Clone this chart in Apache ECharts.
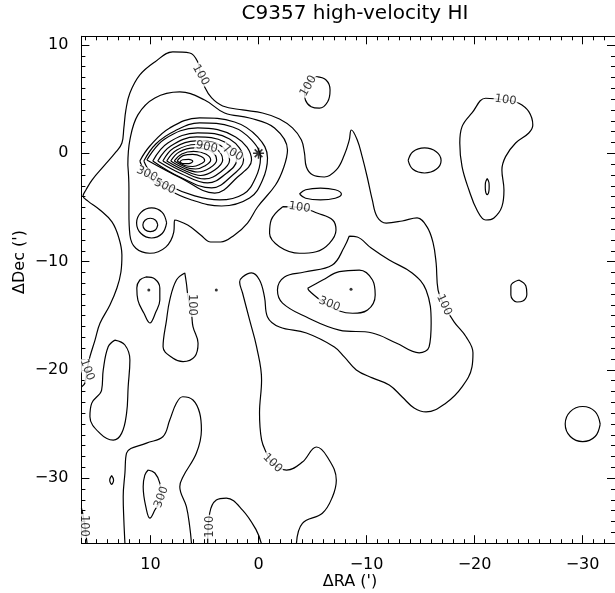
<!DOCTYPE html>
<html>
<head>
<meta charset="utf-8">
<script src="https://cdn.jsdelivr.net/npm/echarts@6/dist/echarts.min.js"></script>
<style>
html, body { margin: 0; padding: 0; background: #fff; }
#chart { width: 615px; height: 593px; }
</style>
</head>
<body>
<div id="chart"></div>
<script>
// Offsets in arcminutes: [dRA, dDec]
const RA_MIN = -33, RA_MAX = 16.4;
const DEC_MIN = -36, DEC_MAX = 10.8;
const raTickValues = [10, 0, -10, -20, -30];
const decTickValues = [10, 0, -10, -20, -30];

// ---- contour paths ----
const c100Main = [[16.4,-21.58],[16.07,-21.21],[15.88,-20.01],[15.61,-18.78],[15.14,-17.25],[14.68,-15.7],[13.76,-14.01],[13.11,-12.44],[12.74,-10.96],[12.65,-9.39],[12.93,-7.82],[13.57,-6.34],[14.68,-5.24],[15.79,-4.42],[16.25,-3.95],[15.98,-3.39],[15.42,-2.47],[14.31,-1.17],[13.2,0.12],[12.65,0.95],[12.47,2.34],[12.28,4.0],[11.91,5.56],[10.99,7.23],[9.6,8.43],[7.94,9.36],[6.37,9.26],[5.63,8.43],[5.36,7.23],[4.99,6.12],[4.34,5.11],[3.32,4.37],[1.48,4.0],[-0.37,3.72],[-1.94,3.17],[-3.14,2.34],[-3.97,1.23],[-4.25,0.03],[-4.43,-1.26],[-4.99,-1.99],[-6.09,-2.19],[-7.2,-1.54],[-7.94,-0.16],[-8.4,1.23],[-8.59,2.15],[-9.14,1.23],[-9.6,-0.34],[-10.06,-2.19],[-10.53,-4.31],[-10.99,-5.88],[-11.82,-6.44],[-13.3,-6.25],[-14.68,-5.97],[-15.6,-6.8],[-16.16,-8.28],[-16.44,-10.13],[-16.62,-12.63],[-17.17,-14.0],[-18.1,-15.56],[-19.21,-16.94],[-19.85,-18.42],[-19.76,-19.72],[-18.84,-21.57],[-17.36,-23.05],[-15.51,-23.88],[-14.4,-23.51],[-13.3,-22.5],[-12.1,-21.39],[-10.53,-20.74],[-9.05,-20.0],[-7.94,-18.8],[-7.02,-17.88],[-4.43,-16.59],[-1.94,-16.04],[-0.83,-15.11],[-0.55,-13.27],[-0.09,-11.7],[0.65,-11.05],[1.48,-11.42],[1.75,-11.88],[1.48,-12.9],[0.83,-15.39],[0.18,-17.88],[-0.28,-20.93],[-0.09,-23.98],[-0.28,-26.47],[-0.74,-27.67],[-1.29,-28.6],[-2.59,-29.25],[-4.06,-28.51],[-5.36,-27.12],[-6.37,-28.04],[-7.2,-30.18],[-6.83,-31.75],[-5.91,-33.23],[-4.06,-34.16],[-3.51,-36.0]];
const c200Core = [[12.1,-1.08],[11.91,1.23],[11.17,3.55],[9.6,5.11],[7.29,5.66],[4.99,4.92],[3.14,3.72],[0.83,3.26],[-1.48,2.34],[-2.68,0.3],[-2.31,-1.36],[-1.57,-2.93],[0.09,-4.96],[1.02,-6.44],[2.22,-7.54],[3.51,-8.19],[4.43,-8.19],[5.36,-7.54],[6.56,-6.62],[7.76,-6.16],[7.85,-7.28],[8.59,-8.66],[10.06,-9.23],[11.36,-8.77],[11.91,-7.54],[12.0,-5.42],[12.0,-3.2],[12.1,-1.08]];
const c300Core = [[10.99,-0.71],[10.06,0.67],[8.22,2.34],[5.45,3.26],[2.22,2.89],[0.09,1.51],[-0.83,-0.43],[-0.37,-2.47],[0.83,-4.13],[3.42,-4.87],[6.19,-4.31],[8.68,-3.2],[10.25,-2.1],[10.99,-0.71]];
const c400Core = [[10.62,-0.71],[9.51,0.86],[7.76,2.06],[5.45,2.8],[2.4,2.43],[0.65,1.23],[-0.18,-0.43],[0.28,-2.28],[1.39,-3.76],[3.6,-4.31],[5.91,-3.94],[8.22,-3.02],[9.88,-1.91],[10.62,-0.71]];
const c500Core = [[10.34,-0.62],[8.68,1.32],[5.63,2.34],[2.12,1.51],[0.65,-0.62],[1.94,-2.19],[4.06,-3.67],[7.2,-2.28],[10.34,-0.62]];
const c600Core = [[9.79,-0.71],[8.4,0.95],[5.63,1.88],[2.68,1.32],[1.39,-0.62],[2.49,-2.1],[4.34,-3.2],[7.29,-2.19],[9.79,-0.71]];
const c700Core = [[9.33,-0.71],[8.13,0.67],[5.73,1.51],[3.14,1.04],[2.03,-0.62],[3.05,-1.91],[4.71,-2.74],[7.11,-1.91],[9.33,-0.71]];
const c800Core = [[8.86,-0.71],[7.85,0.49],[5.82,1.14],[3.6,0.77],[2.68,-0.62],[3.51,-1.73],[4.99,-2.37],[6.93,-1.73],[8.86,-0.71]];
const c900Core = [[8.5,-0.71],[7.57,0.3],[5.82,0.81],[4.06,0.49],[3.32,-0.62],[4.06,-1.54],[5.36,-2.05],[6.83,-1.59],[8.5,-0.71]];
const c1000Core = [[8.13,-0.71],[7.34,0.12],[5.91,0.49],[4.43,0.21],[3.88,-0.62],[4.52,-1.36],[5.63,-1.73],[6.74,-1.45],[8.13,-0.71]];
const c1100Core = [[7.8,-0.71],[7.11,-0.06],[6.0,0.17],[4.89,-0.06],[4.43,-0.62],[4.99,-1.17],[5.82,-1.45],[6.69,-1.31],[7.8,-0.71]];
const c1200Core = [[7.53,-0.71],[6.93,-0.2],[6.09,-0.11],[5.31,-0.3],[4.99,-0.66],[5.45,-1.03],[6.09,-1.22],[6.83,-1.13],[7.53,-0.71]];
const c1300Core = [[7.29,-0.78],[7.02,-0.6],[6.46,-0.57],[6.09,-0.74],[6.46,-0.95],[7.02,-0.95],[7.29,-0.78]];
const c300Clump = [[8.51,-6.43],[8.92,-5.45],[9.9,-5.04],[10.88,-5.45],[11.29,-6.43],[10.88,-7.41],[9.9,-7.82],[8.92,-7.41],[8.51,-6.43]];
const c400Clump = [[9.33,-6.62],[9.53,-6.18],[10.02,-6.0],[10.51,-6.18],[10.71,-6.62],[10.51,-7.06],[10.02,-7.24],[9.53,-7.06],[9.33,-6.62]];
const c100North = [[-5.33,7.07],[-6.25,6.77],[-6.62,5.85],[-6.4,4.76],[-5.63,4.16],[-4.87,4.3],[-4.34,4.92],[-4.25,5.69],[-4.52,6.49],[-5.33,7.07]];
const c100East = [[-13.85,-0.66],[-14.29,0.15],[-15.37,0.49],[-16.45,0.15],[-16.9,-0.66],[-16.45,-1.48],[-15.37,-1.82],[-14.29,-1.48],[-13.85,-0.66]];
const c100Flat = [[-3.79,-3.76],[-4.36,-3.37],[-5.73,-3.21],[-7.1,-3.37],[-7.67,-3.76],[-7.1,-4.15],[-5.73,-4.31],[-4.36,-4.15],[-3.79,-3.76]];
const c100Mid = [[-2.24,-4.93],[-1.17,-6.16],[-1.02,-7.39],[-1.94,-8.62],[-3.79,-9.23],[-5.33,-9.09],[-6.56,-8.31],[-7.17,-7.08],[-6.86,-6.16],[-5.48,-5.54],[-3.79,-5.0],[-2.24,-4.93]];
const c200South = [[-8.4,-7.64],[-7.94,-8.65],[-6.83,-10.31],[-4.25,-10.96],[-2.4,-11.42],[-1.75,-12.63],[-2.22,-13.83],[-4.43,-15.12],[-7.48,-16.32],[-10.53,-16.59],[-12.74,-17.51],[-14.87,-18.42],[-15.79,-17.88],[-15.98,-15.67],[-15.51,-12.63],[-14.22,-11.05],[-12.1,-9.86],[-10.43,-8.75],[-9.14,-7.73],[-8.4,-7.64]];
const c300South = [[-4.55,-12.47],[-5.94,-11.7],[-7.48,-10.93],[-9.33,-10.78],[-10.55,-11.7],[-10.8,-13.08],[-10.09,-14.47],[-8.71,-14.77],[-7.48,-14.56],[-6.09,-13.82],[-4.71,-12.72],[-4.55,-12.47]];
const c100West = [[-22.87,4.92],[-24.1,4.62],[-25.02,3.84],[-25.39,2.61],[-25.02,1.87],[-23.8,0.95],[-22.87,-0.31],[-22.53,-1.54],[-22.72,-3.39],[-22.53,-4.93],[-21.79,-5.97],[-21.03,-6.16],[-20.22,-5.24],[-19.48,-3.39],[-18.84,-1.24],[-18.63,0.95],[-18.84,2.46],[-19.76,3.72],[-21.03,5.08],[-22.87,4.92]];
const c200West = [[-21.17,-2.34],[-21.33,-2.7],[-21.35,-3.08],[-21.33,-3.46],[-21.17,-3.82],[-21.01,-3.46],[-20.99,-3.08],[-21.01,-2.7],[-21.17,-2.34]];
const c100Knot = [[-24.1,-11.7],[-24.75,-12.25],[-24.84,-12.99],[-24.47,-13.64],[-23.92,-13.73],[-23.36,-13.08],[-23.36,-12.25],[-24.1,-11.7]];
const c100Ring = [[-31.63,-25.0],[-31.16,-23.85],[-30.01,-23.38],[-28.86,-23.85],[-28.39,-25.0],[-28.86,-26.15],[-30.01,-26.62],[-31.16,-26.15],[-31.63,-25.0]];
const c100LoopA = [[10.43,-11.42],[9.6,-11.61],[9.14,-12.44],[9.14,-13.55],[9.51,-14.66],[10.06,-15.67],[10.62,-14.75],[11.17,-13.55],[11.27,-12.44],[10.99,-11.7],[10.43,-11.42]];
const c100LoopB = [[6.83,-11.05],[7.6,-11.7],[8.22,-13.55],[8.52,-15.4],[8.84,-17.86],[7.91,-18.93],[6.99,-19.24],[5.91,-18.78],[5.6,-17.55],[6.07,-16.01],[6.21,-14.77],[6.53,-13.24],[6.68,-12.0],[6.83,-11.05]];
const c100LoopC = [[13.3,-17.25],[12.37,-17.7],[11.91,-19.09],[12.07,-21.55],[12.22,-24.01],[12.68,-25.86],[13.45,-26.48],[14.68,-25.86],[15.61,-24.32],[15.45,-23.09],[14.53,-21.86],[14.38,-20.02],[13.92,-17.86],[13.3,-17.25]];
const c100Tongue = [[12.37,-36.0],[12.47,-33.86],[12.53,-31.71],[12.37,-29.52],[12.22,-27.68],[10.37,-26.76],[8.86,-26.17],[8.22,-24.63],[7.6,-23.06],[7.02,-22.48],[6.07,-22.78],[5.45,-23.98],[5.29,-25.55],[5.75,-27.68],[6.99,-29.86],[7.29,-30.79],[6.68,-32.63],[6.37,-34.48],[6.21,-36.0]];
const c300Tongue = [[10.22,-29.24],[9.6,-29.52],[9.14,-30.45],[8.99,-31.74],[9.6,-32.94],[10.06,-33.68],[10.37,-32.94],[10.68,-30.79],[10.53,-29.71],[10.22,-29.24]];
const c100Speck = [[13.6,-29.76],[13.42,-30.16],[13.6,-30.56],[13.78,-30.16],[13.6,-29.76]];
const c100Corner = [[16.4,-32.75],[16.16,-33.86],[15.88,-36.0]];
const c100Bump = [[4.71,-36.0],[4.52,-33.21],[3.91,-32.01],[2.98,-31.83],[1.48,-32.94],[0.21,-34.79],[-0.25,-36.0]];

const contours = [
  [100, c100Main], [200, c200Core], [300, c300Core], [400, c400Core], [500, c500Core],
  [600, c600Core], [700, c700Core], [800, c800Core], [900, c900Core], [1000, c1000Core],
  [1100, c1100Core], [1200, c1200Core], [1300, c1300Core], [300, c300Clump], [400, c400Clump],
  [100, c100North], [100, c100East], [100, c100Flat], [100, c100Mid], [200, c200South],
  [300, c300South], [100, c100West], [200, c200West], [100, c100Knot], [100, c100Ring],
  [100, c100LoopA], [100, c100LoopB], [100, c100LoopC], [100, c100Tongue],
  [300, c300Tongue], [100, c100Speck], [100, c100Corner], [100, c100Bump]
];

// [level, dRA, dDec, text angle]
const contourLabels = [
  [100, 5.36, 7.23, -60], [100, -17.17, -14.0, -65], [100, -1.29, -28.6, -45],
  [100, -4.62, 6.21, 60], [100, -3.79, -5.0, -8], [100, -22.87, 4.92, -8],
  [300, -6.56, -13.92, -22], [100, 6.19, -14.0, -90], [100, 15.88, -20.0, -70],
  [300, 8.99, -31.74, 70], [100, 4.52, -34.48, 90], [100, 16.16, -34.4, -90],
  [300, 10.34, -1.91, -25], [500, 8.68, -3.06, -25], [900, 4.8, 0.58, -12], [700, 2.4, 0.03, -30]
];

// isolated local extrema drawn as dots
const peakDots = [[10.16, -12.63], [3.91, -12.62], [-8.56, -12.56]];
const sourcePosition = [[0, 0]];

const FONT = 'DejaVu Sans';
const fmt = v => (v < 0 ? '\u2212' + Math.abs(v) : String(v));

function xAx(position, major, labels) {
  return {
    type: 'value', position: position, inverse: true, min: RA_MIN, max: RA_MAX,
    interval: major ? undefined : 1,
    axisLine: { show: major, onZero: false, lineStyle: { color: '#000', width: 1 } },
    axisTick: major
      ? { show: true, inside: true, length: 8, customValues: raTickValues, lineStyle: { color: '#000' } }
      : { show: true, inside: true, length: 4, lineStyle: { color: '#000' } },
    axisLabel: labels
      ? { show: true, customValues: raTickValues, formatter: fmt, margin: 14, color: '#000', fontFamily: FONT, fontSize: 16 }
      : { show: false },
    splitLine: { show: false }
  };
}
function yAx(position, major, labels) {
  return {
    type: 'value', position: position, min: DEC_MIN, max: DEC_MAX,
    interval: major ? undefined : 1,
    axisLine: { show: major, onZero: false, lineStyle: { color: '#000', width: 1 } },
    axisTick: major
      ? { show: true, inside: true, length: 8, customValues: decTickValues, lineStyle: { color: '#000' } }
      : { show: true, inside: true, length: 4, lineStyle: { color: '#000' } },
    axisLabel: labels
      ? { show: true, customValues: decTickValues, formatter: fmt, margin: 13, color: '#000', fontFamily: FONT, fontSize: 16 }
      : { show: false },
    splitLine: { show: false }
  };
}

const series = contours.map(([level, pts]) => ({
  type: 'line', name: String(level), data: pts, smooth: 0.4, symbol: 'none',
  lineStyle: { color: '#000', width: 1.2 }, silent: true, z: 2
}));

series.push({
  type: 'scatter', data: contourLabels.map(([lv, x, y, a]) => ({
    name: String(lv), value: [x, y],
    label: { rotate: a }
  })),
  symbolSize: 1, itemStyle: { color: 'rgba(0,0,0,0)' }, silent: true, z: 5,
  label: {
    show: true, position: 'inside', formatter: '{b}', color: '#000',
    fontFamily: FONT, fontSize: 11.5, backgroundColor: '#fff', padding: [0, 1]
  }
});
series.push({
  type: 'scatter', data: peakDots, symbolSize: 3, itemStyle: { color: '#000' }, silent: true, z: 6
});
series.push({
  type: 'scatter', data: sourcePosition, symbol: 'path://M0,-6L0,6M-6,0L6,0M-4.2,-4.2L4.2,4.2M-4.2,4.2L4.2,-4.2',
  symbolSize: 11, itemStyle: { color: 'none', borderColor: '#000', borderWidth: 1.6 }, silent: true, z: 7
});

const chart = echarts.init(document.getElementById('chart'), null, { renderer: 'canvas' });
chart.setOption({
  animation: false,
  backgroundColor: '#fff',
  grid: { left: 81.4, right: -1.4, top: 36.3, bottom: 49.8, containLabel: false },
  xAxis: [xAx('bottom', true, true), xAx('bottom', false, false), xAx('top', true, false), xAx('top', false, false)],
  yAxis: [yAx('left', true, true), yAx('left', false, false), yAx('right', true, false), yAx('right', false, false)],
  graphic: [
    { type: 'text', x: 355, y: 14, style: { text: 'C9357 high-velocity HI', font: '20px "DejaVu Sans"', fill: '#000', align: 'center', verticalAlign: 'middle' } },
    { type: 'text', x: 350, y: 582, style: { text: '\u0394RA (\')', font: '16px "DejaVu Sans"', fill: '#000', align: 'center', verticalAlign: 'middle' } },
    { type: 'text', x: 20, y: 262, rotation: Math.PI / 2, style: { text: '\u0394Dec (\')', font: '16px "DejaVu Sans"', fill: '#000', align: 'center', verticalAlign: 'middle' } }
  ],
  series: series
});
</script>
</body>
</html>
